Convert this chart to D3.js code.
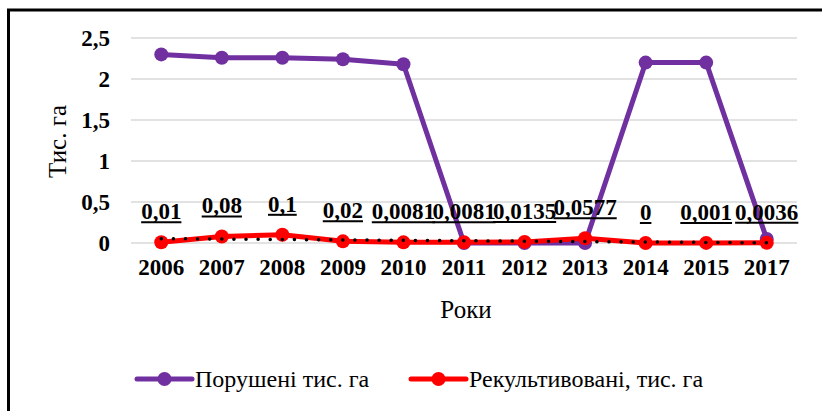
<!DOCTYPE html>
<html>
<head>
<meta charset="utf-8">
<script src="https://cdn.jsdelivr.net/npm/d3@7"></script>
<style>
  body { margin: 0; background: #fff; }
  svg { display: block; }
  svg text { font-family: "Liberation Serif", "Times New Roman", Times, serif; fill: #000; }
</style>
</head>
<body>
<script>
// Data
const years = ["2006", "2007", "2008", "2009", "2010", "2011", "2012", "2013", "2014", "2015", "2017"];
const disturbed = [2.3, 2.26, 2.26, 2.24, 2.18, 0, 0, 0, 2.2, 2.2, 0.05];
const reclaimed = [0.01, 0.08, 0.1, 0.02, 0.0081, 0.0081, 0.0135, 0.0577, 0, 0.001, 0.0036];
const reclaimedLabels = ["0,01", "0,08", "0,1", "0,02", "0,0081", "0,0081", "0,0135", "0,0577", "0", "0,001", "0,0036"];
const yTicks = [0, 0.5, 1, 1.5, 2, 2.5];
const seriesNames = ["Порушені тис. га", "Рекультивовані, тис. га"];

const width = 822, height = 411;
const margin = {top: 38, right: 25, bottom: 168, left: 131};

const svg = d3.select("body").append("svg")
    .attr("width", width)
    .attr("height", height);

// outer frame (right / bottom edges fall outside the window)
svg.append("path")
    .attr("d", "M8.5,430 V10 H840")
    .attr("fill", "none")
    .attr("stroke", "#000")
    .attr("stroke-width", 3);

const x = d3.scaleBand()
    .domain(years)
    .range([margin.left, width - margin.right]);

const y = d3.scaleLinear()
    .domain([0, 2.5])
    .range([height - margin.bottom, margin.top]);

const cx = d => x(d) + x.bandwidth() / 2;

// grid
svg.append("g")
    .selectAll("line")
    .data(yTicks)
    .join("line")
    .attr("x1", margin.left)
    .attr("x2", width - margin.right)
    .attr("y1", d => y(d))
    .attr("y2", d => y(d))
    .attr("stroke", "#d9d9d9")
    .attr("stroke-width", 1.5);

// y axis labels
const yAxis = d3.axisLeft(y)
    .tickValues(yTicks)
    .tickFormat(d => String(d).replace(".", ","))
    .tickSize(0)
    .tickPadding(21);
svg.append("g")
    .attr("transform", `translate(${margin.left},0)`)
    .call(yAxis)
    .call(g => g.select(".domain").remove())
    .selectAll("text")
    .attr("font-size", 23)
    .attr("font-weight", "bold");

// x axis labels
const xAxis = d3.axisBottom(x).tickSize(0).tickPadding(16);
svg.append("g")
    .attr("transform", `translate(0,${y(0)})`)
    .call(xAxis)
    .call(g => g.select(".domain").remove())
    .selectAll("text")
    .attr("font-size", 23)
    .attr("font-weight", "bold");

// axis titles
svg.append("text")
    .attr("transform", `translate(66,${(y(0) + y(2.5)) / 2 + 1}) rotate(-90)`)
    .attr("text-anchor", "middle")
    .attr("font-size", 25)
    .text("Тис. га");

svg.append("text")
    .attr("x", 466)
    .attr("y", 318)
    .attr("text-anchor", "middle")
    .attr("font-size", 25)
    .text("Роки");

const line = d3.line()
    .x((d, i) => cx(years[i]))
    .y(d => y(d));

// disturbed series
svg.append("path")
    .datum(disturbed)
    .attr("d", line)
    .attr("fill", "none")
    .attr("stroke", "#7030a0")
    .attr("stroke-width", 5)
    .attr("stroke-linejoin", "round");
svg.append("g")
    .selectAll("circle")
    .data(disturbed)
    .join("circle")
    .attr("cx", (d, i) => cx(years[i]))
    .attr("cy", d => y(d))
    .attr("r", 7)
    .attr("fill", "#7030a0");

// reclaimed series
svg.append("path")
    .datum(reclaimed)
    .attr("d", line)
    .attr("fill", "none")
    .attr("stroke", "#ff0000")
    .attr("stroke-width", 5)
    .attr("stroke-linejoin", "round");
svg.append("g")
    .selectAll("circle")
    .data(reclaimed)
    .join("circle")
    .attr("cx", (d, i) => cx(years[i]))
    .attr("cy", d => y(d))
    .attr("r", 7)
    .attr("fill", "#ff0000");

// linear trend of reclaimed series (dotted)
const n = reclaimed.length;
const idx = d3.range(1, n + 1);
const mx = d3.mean(idx), my = d3.mean(reclaimed);
const slope = d3.sum(idx, (k, i) => (k - mx) * (reclaimed[i] - my)) / d3.sum(idx, k => (k - mx) * (k - mx));
const icpt = my - slope * mx;
svg.append("line")
    .attr("x1", cx(years[0]))
    .attr("y1", y(icpt + slope * 1))
    .attr("x2", cx(years[n - 1]))
    .attr("y2", y(icpt + slope * n))
    .attr("stroke", "#000")
    .attr("stroke-width", 3.5)
    .attr("stroke-linecap", "round")
    .attr("stroke-dasharray", "0.1 12");

// data labels, underlined
const labels = svg.append("g")
    .selectAll("g")
    .data(reclaimed)
    .join("g")
    .attr("transform", (d, i) => `translate(${cx(years[i])},${y(d) - 23})`);
labels.append("text")
    .attr("text-anchor", "middle")
    .attr("font-size", 23)
    .attr("font-weight", "bold")
    .text((d, i) => reclaimedLabels[i])
    .each(function () {
        const w = this.getComputedTextLength();
        d3.select(this.parentNode).append("line")
            .attr("x1", -w / 2).attr("x2", w / 2)
            .attr("y1", 3).attr("y2", 3)
            .attr("stroke", "#000")
            .attr("stroke-width", 2);
    });

// legend
const legend = svg.append("g").attr("transform", "translate(0,379)");
const legendItems = [
    {name: seriesNames[0], color: "#7030a0", x: 137},
    {name: seriesNames[1], color: "#ff0000", x: 411}
];
legendItems.forEach(it => {
    legend.append("line")
        .attr("x1", it.x).attr("x2", it.x + 55)
        .attr("stroke", it.color)
        .attr("stroke-width", 5)
        .attr("stroke-linecap", "round");
    legend.append("circle")
        .attr("cx", it.x + 27.5)
        .attr("r", 7)
        .attr("fill", it.color);
    legend.append("text")
        .attr("x", it.x + 58)
        .attr("dy", "0.35em")
        .attr("font-size", 24)
        .text(it.name);
});
</script>
</body>
</html>
